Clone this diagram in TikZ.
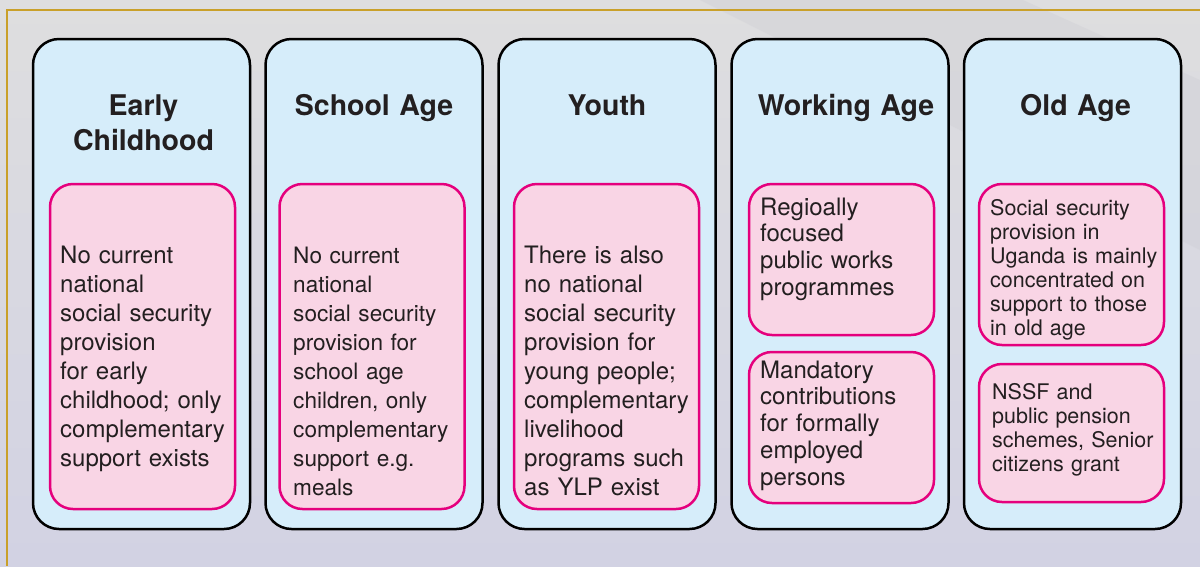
\documentclass[tikz,border=0pt]{standalone}
\usepackage{fontspec}
\setmainfont{TeX Gyre Heros}
\usepackage{tikz}
\usetikzlibrary{arrows.meta}
\definecolor{agefill}{RGB}{214,237,250}
\definecolor{notefill}{RGB}{249,213,229}
\definecolor{noteline}{RGB}{229,0,125}
\definecolor{framegold}{RGB}{201,160,42}
\definecolor{inktext}{RGB}{35,31,32}
\definecolor{bgtop}{RGB}{222,222,223}
\definecolor{bgbottom}{RGB}{210,210,227}
\definecolor{bgband}{RGB}{208,208,214}

\begin{document}
\begin{tikzpicture}[x=1pt, y=-1pt,
  agebox/.style={draw=black, line width=2.5pt, fill=agefill, rounded corners=26pt, minimum width=217pt, minimum height=490pt, inner sep=0pt},
  notebox/.style={draw=noteline, line width=2.5pt, fill=notefill, rounded corners=23pt, minimum width=185pt, inner sep=0pt},
  agetitle/.style={text=inktext, font=\bfseries\fontsize{28.5}{35}\selectfont, align=center, text width=210pt, anchor=base, inner sep=0pt},
  notetext/.style={text=inktext, font=\fontsize{24}{29}\selectfont, align=left, text width=178pt, anchor=base west, inner sep=0pt},
  notesmall/.style={notetext, font=\fontsize{21.5}{24}\selectfont}]
\useasboundingbox (0,0) rectangle (1200,566);
\shade[top color=bgtop, bottom color=bgbottom] (0,0) rectangle (1200,566);
\fill[bgband, opacity=0.45] (700,0) -- (1023,0) -- (1200,80) -- (1200,250) -- cycle;
\draw[framegold, line width=2pt] (1200,10) -- (7,10) -- (7,566);

\path (141.5,284) node (early) [agebox] {};
\path (374,284) node (school) [agebox] {};
\path (607,284) node (youth) [agebox] {};
\path (840,284) node (working) [agebox] {};
\path (1072.5,284) node (old) [agebox] {};

\path (143.5,115.5) node (earlyT) [agetitle] {Early\\Childhood};
\path (374,115.5) node (schoolT) [agetitle] {School Age};
\path (607,115.5) node (youthT) [agetitle] {Youth};
\path (846,115.5) node (workingT) [agetitle] {Working Age};
\path (1075.5,115.5) node (oldT) [agetitle] {Old Age};

\path (142.5,346.5) node (earlyN) [notebox, minimum height=325pt] {};
\path (372,346.5) node (schoolN) [notebox, minimum height=325pt] {};
\path (606.5,346.5) node (youthN) [notebox, minimum height=325pt] {};
\path (841.5,259.5) node (workingA) [notebox, minimum height=151pt] {};
\path (841.5,427.5) node (workingB) [notebox, minimum height=151pt] {};
\path (1071.5,264.5) node (oldA) [notebox, minimum height=161pt] {};
\path (1071.5,433) node (oldB) [notebox, minimum height=138pt] {};

\path (60,263) node (earlyX) [notetext] {No current\\national\\social security\\provision\\for early\\childhood; only\\complementary\\support exists};
\path (293,263) node (schoolX) [notetext, font=\fontsize{22.6}{29}\selectfont] {No current\\national\\social security\\provision for\\school age\\children, only\\complementary\\support e.g.\\meals};
\path (524,263) node (youthX) [notetext] {There is also\\no national\\social security\\provision for\\young people;\\complementary\\livelihood\\programs such\\as YLP exist};
\path (760,215) node (workingXA) [notetext, font=\fontsize{24}{26.75}\selectfont] {Regioally\\focused\\public works\\programmes};
\path (760,378) node (workingXB) [notetext, font=\fontsize{24}{26.75}\selectfont] {Mandatory\\contributions\\for formally\\employed\\persons};
\path (990,215) node (oldXA) [notesmall] {Social security\\provision in\\Uganda is mainly\\concentrated on\\support to those\\in old age};
\path (992,399) node (oldXB) [notesmall] {NSSF and\\public pension\\schemes, Senior\\citizens grant};
\end{tikzpicture}
\end{document}
